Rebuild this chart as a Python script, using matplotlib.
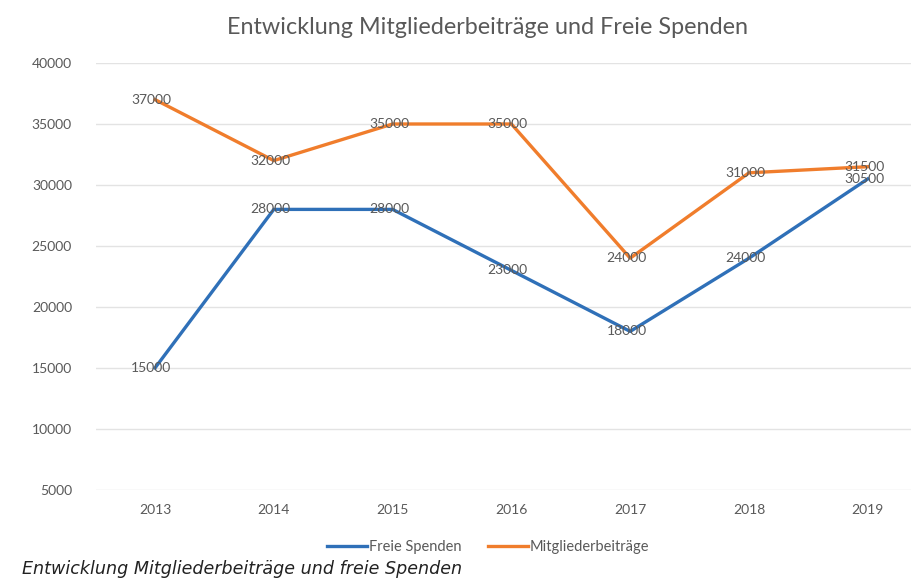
import matplotlib.pyplot as plt

# Daten
jahre = ['2013', '2014', '2015', '2016', '2017', '2018', '2019']
freie_spenden = [15000, 28000, 28000, 23000, 18000, 24000, 30500]
mitgliederbeitraege = [37000, 32000, 35000, 35000, 24000, 31000, 31500]

plt.rcParams['font.family'] = ['Lato', 'DejaVu Sans']

fig = plt.figure(figsize=(9.12, 5.78), dpi=100)
ax = fig.add_axes([95.6 / 912, 1 - 490 / 578, 831.6 / 912, 427 / 578])

x = list(range(len(jahre)))
ax.plot(x, freie_spenden, color='#2f70b8', lw=2.4, label='Freie Spenden', zorder=3)
ax.plot(x, mitgliederbeitraege, color='#f07d2c', lw=2.4, label='Mitgliederbeiträge', zorder=3)

# Datenbeschriftungen
for serie in (freie_spenden, mitgliederbeitraege):
    for xi, v in zip(x, serie):
        ax.text(xi - 0.03, v, str(v), ha='center', va='center', fontsize=10, color='#595959', zorder=4)

ax.set_xlim(-0.5, len(jahre) - 0.5)
ax.set_ylim(5000, 40000)
ax.set_yticks(range(5000, 40001, 5000))
ax.set_xticks(x)
ax.set_xticklabels(jahre)
ax.tick_params(length=0, labelsize=10, colors='#595959')
ax.tick_params(axis='x', pad=10)
ax.tick_params(axis='y', pad=17)
ax.grid(axis='y', color='#e3e3e3', lw=1)
ax.set_axisbelow(True)
for s in ax.spines.values():
    s.set_visible(False)

fig.text(488 / 912, 1 - 28 / 578, 'Entwicklung Mitgliederbeiträge und Freie Spenden',
         ha='center', va='center', fontsize=16.8, color='#595959')

fig.legend(loc='center', bbox_to_anchor=(488 / 912, 1 - 547 / 578), ncol=2, frameon=False,
           fontsize=10.5, labelcolor='#595959', handlelength=2.8, handletextpad=0.1, columnspacing=1.8)

fig.text(22 / 912, 1 - 569 / 578, 'Entwicklung Mitgliederbeiträge und freie Spenden',
         ha='left', va='center', fontsize=12.6, style='italic', color='#222222',
         family='DejaVu Sans')

fig.savefig('out.png', dpi=100, facecolor='white')
